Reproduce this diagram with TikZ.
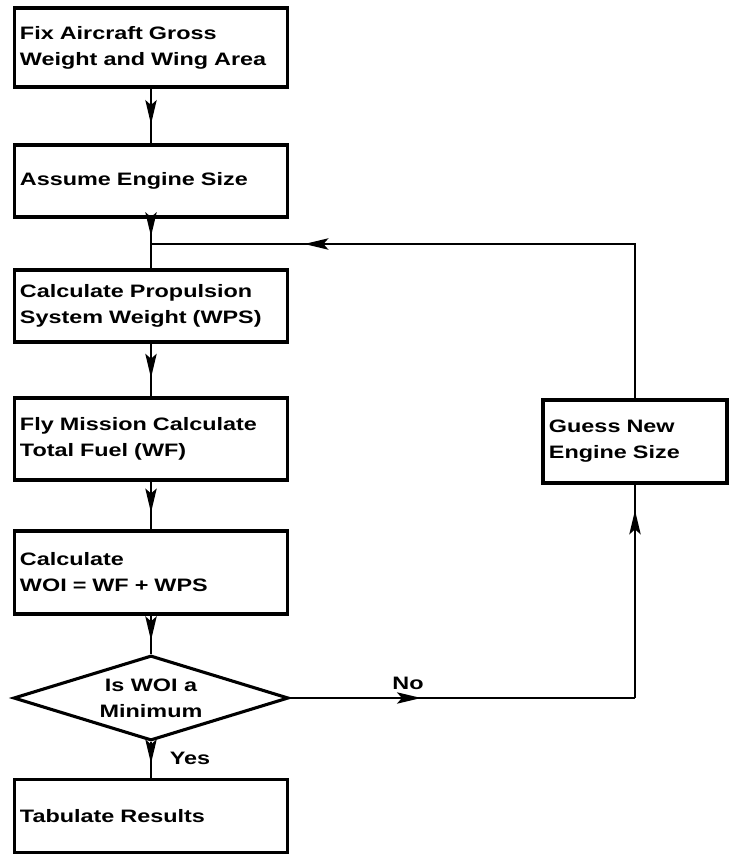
\documentclass[tikz,border=0pt]{standalone}
\usepackage{fontspec}
\setmainfont{Liberation Sans}[FakeStretch=1.3]
\usetikzlibrary{shapes.geometric,decorations.markings,arrows.meta}

\begin{document}
\begin{tikzpicture}[x=0.025cm, y=-0.025cm,
	font=\fontsize{12.8}{18.5}\selectfont\bfseries,
	box/.style={draw, line width=2.2pt, minimum width=6.825cm, text width=6.55cm, align=left, inner xsep=0.12cm},
	decision/.style={diamond, draw, line width=2.2pt, aspect=3.2, minimum width=6.875cm, minimum height=2.125cm, inner sep=0pt, align=center},
	conn/.style={line width=2pt},
	midarrow/.style={decoration={markings, mark=at position #1 with {\arrow{Stealth[length=0.6cm,width=0.28cm,inset=0.12cm]}}}, postaction={decorate}}]
	\useasboundingbox (0,0) rectangle (730,862);
	% main column
	\node [box, minimum height=1.975cm] (fix) at (151,47.5) {Fix Aircraft Gross\\Weight and Wing Area};
	\node [box, minimum height=1.8cm] (assume) at (151,181) {Assume Engine Size};
	\node [box, minimum height=1.8cm] (wps) at (151,306) {Calculate Propulsion\\System Weight (WPS)};
	\node [box, minimum height=2.05cm] (fly) at (151,439) {Fly Mission Calculate\\Total Fuel (WF)};
	\node [box, minimum height=2.075cm] (woi) at (151,572.5) {Calculate\\WOI = WF + WPS};
	\node [decision] (mini) at (151,698) {Is WOI a\\Minimum};
	\node [box, minimum height=1.825cm] (tab) at (151,816) {Tabulate Results};
	% loop back
	\node [box, minimum width=4.6cm, text width=4.3cm, minimum height=2.075cm] (guess) at (635,441.5) {Guess New\\Engine Size};
	\coordinate (join) at (151,244);
	\coordinate (turn) at (guess.south |- mini.east);
	\coordinate (corner) at (guess.north |- join);
	\draw [conn, midarrow=0.65] (fix) -- (assume);
	\draw [conn, midarrow=0.7] (assume) -- (join);
	\draw [conn] (join) -- (wps);
	\draw [conn, midarrow=0.65] (wps) -- (fly);
	\draw [conn, midarrow=0.65] (fly) -- (woi);
	\draw [conn, midarrow=0.65] (woi) -- (mini);
	\draw [conn, midarrow=0.6] (mini) -- (tab);
	\draw [conn, midarrow=0.38] (mini.east) -- (turn);
	\draw [conn, midarrow=0.88] (turn) -- (guess.south);
	\draw [conn, midarrow=0.76] (guess.north) -- (corner) -- (join);
	\node (no) at (408,683) {No};
	\node (yes) at (190,758) {Yes};
\end{tikzpicture}
\end{document}
